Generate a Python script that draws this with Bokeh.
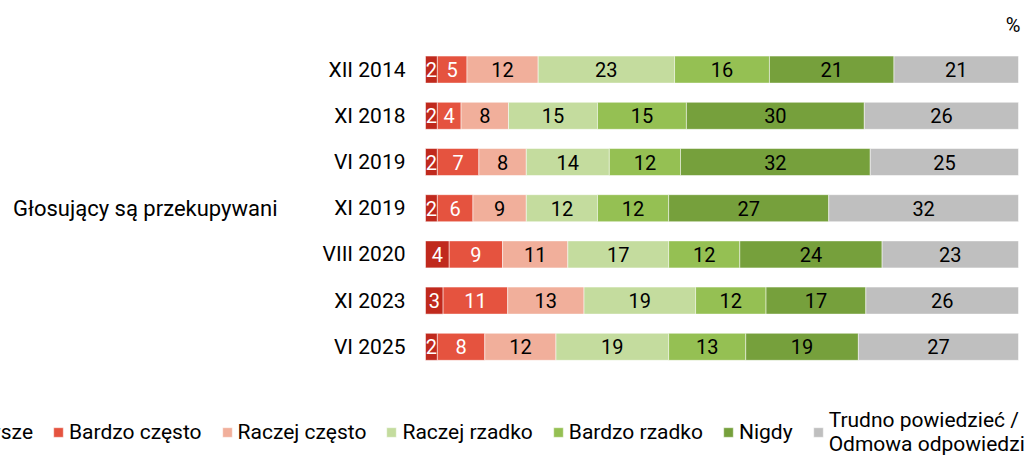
from bokeh.plotting import figure
from bokeh.models import (ColumnDataSource, Range1d, Legend, LegendItem, Title, LabelSet, Label)
from bokeh.embed import file_html
from bokeh.resources import INLINE
from bokeh.core.properties import value

group = "Głosujący są przekupywani"
dates = ["XII 2014", "XI 2018", "VI 2019", "XI 2019", "VIII 2020", "XI 2023", "VI 2025"]
series = ["Zawsze", "Bardzo często", "Raczej często", "Raczej rzadko",
          "Bardzo rzadko", "Nigdy", "Trudno powiedzieć /\nOdmowa odpowiedzi"]
zawsze = [2, 2, 2, 2, 4, 3, 2]
bardzo_czesto = [5, 4, 7, 6, 9, 11, 8]
raczej_czesto = [12, 8, 8, 9, 11, 13, 12]
raczej_rzadko = [23, 15, 14, 12, 17, 19, 19]
bardzo_rzadko = [16, 15, 12, 12, 12, 12, 13]
nigdy = [21, 30, 32, 27, 24, 17, 19]
trudno = [21, 26, 25, 32, 23, 26, 27]
colors = ["#C0291D", "#E5533F", "#F1AF9B", "#C4DC9E", "#95C053", "#76A03C", "#BFBFBF"]
label_colors = ["white", "white", "black", "black", "black", "black", "black"]

values = [zawsze, bardzo_czesto, raczej_czesto, raczej_rzadko, bardzo_rzadko, nigdy, trudno]
keys = ["s%d" % i for i in range(len(series))]
FONT = "Roboto"

# ---- layout (pixels) ----
W, H = 1032, 464
TOP = 46            # frame top (title strip above)
BAR_L, BAR_R = 425, 1018   # where 0 % and 100 % fall
ROW = 46.2          # row pitch
px_per_unit = (BAR_R - BAR_L) / 100.0
x_start = -BAR_L / px_per_unit
x_end = 100 + (W - BAR_R) / px_per_unit
y_top = -0.5
y_bottom = y_top + (H - TOP) / ROW

# each row is drawn as a 100 % bar (rounded answers may sum to 101)
totals = [sum(col) for col in zip(*values)]
shares = [[x / t * 100 for x, t in zip(v, totals)] for v in values]

rows = list(range(len(dates)))
data = {"y": rows, "date": dates}
for k, v in zip(keys, shares):
    data[k] = v
source = ColumnDataSource(data)

p = figure(width=W, height=H, output_backend="svg", toolbar_location=None,
           x_range=Range1d(x_start, x_end), y_range=Range1d(y_bottom, y_top))
p.min_border_left = 0
p.min_border_right = 0
p.min_border_bottom = 0
p.min_border_top = TOP
p.outline_line_color = None
p.xgrid.visible = False
p.ygrid.visible = False
p.xaxis.visible = False
p.yaxis.visible = False

renderers = p.hbar_stack(keys, y="y", height=0.585, color=colors, source=source,
                         line_color="white", line_width=0.5)

# value labels centred in each segment
cum = [0] * len(dates)
for i, (v, s) in enumerate(zip(values, shares)):
    centers = [c + x / 2 for c, x in zip(cum, s)]
    cum = [c + x for c, x in zip(cum, s)]
    lsrc = ColumnDataSource(dict(x=centers, y=rows, t=[str(x) for x in v]))
    p.text(x="x", y="y", text="t", source=lsrc, text_align="center", text_baseline="middle",
           text_font=value(FONT), text_font_size="20px", text_color=label_colors[i])

# category labels to the left of the bars
zero = ColumnDataSource(dict(x=[0] * len(dates), y=rows, t=dates))
p.add_layout(LabelSet(x="x", y="y", text="t", source=zero, x_offset=-20,
                      text_align="right", text_baseline="middle", text_font=value(FONT),
                      text_font_size="21px", text_color="black"))

# group label, centred on the block of rows
p.add_layout(Label(x=0, y=(len(dates) - 1) / 2, text=group, x_offset=-148,
                   text_align="right", text_baseline="middle", text_font=FONT,
                   text_font_size="22px", text_color="black"))

t = Title(text="%", align="right", offset=12, text_font=FONT, text_font_size="20px",
          text_font_style="normal", text_color="black", standoff=20)
p.add_layout(t, "above")

items = [LegendItem(label=s, renderers=[r]) for s, r in zip(series, renderers)]
legend = Legend(items=items, orientation="horizontal", location=(-56, 8),
                label_text_font=FONT, label_text_font_size="21px", label_text_color="black",
                glyph_width=12, glyph_height=12, label_standoff=5, spacing=19,
                padding=0, margin=0, border_line_alpha=0, background_fill_alpha=0)
p.add_layout(legend, "center")

open("out.html", "w").write(file_html(p, INLINE))
